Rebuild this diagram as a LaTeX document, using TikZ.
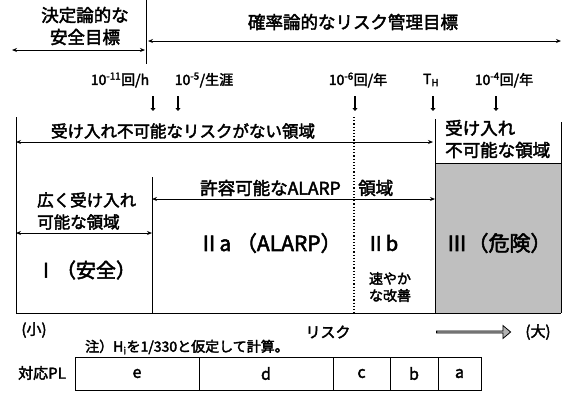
\documentclass[tikz,border=0pt]{standalone}
\usepackage{fontspec}
\setmainfont{Noto Sans CJK JP}[FakeBold=2.5]
\usetikzlibrary{arrows.meta,shapes.arrows}
\begin{document}
\begin{tikzpicture}[x=1pt,y=-1pt,
  txt/.style={inner sep=0pt, font=\fontsize{16.5}{22}\selectfont},
  head/.style={inner sep=0pt, font=\fontsize{17.5}{22}\selectfont},
  big/.style={inner sep=0pt, font=\fontsize{20}{22}\selectfont},
  small/.style={inner sep=0pt, font=\fontsize{15}{17}\selectfont},
  note/.style={inner sep=0pt, font=\fontsize{14}{16}\selectfont},
  rate/.style={inner sep=0pt, font=\fontsize{14}{16}\selectfont},
  ln/.style={line width=1pt},
  dotln/.style={line width=1.2pt, dotted},
  dbl/.style={line width=1pt, {Stealth[length=5pt,width=4pt]}-{Stealth[length=5pt,width=4pt]}},
  darr/.style={line width=1.8pt, -{Triangle[length=3pt,width=5pt]}},
  cell/.style={draw, line width=1pt, minimum height=33pt, inner sep=0pt, font=\fontsize{16}{18}\selectfont}
]
\useasboundingbox (0,0) rectangle (566,392);

% danger zone fill
\fill[black!25] (435,163) rectangle (561,313);

% top section
\node[head, align=center] (det) at (85,26) {決定論的な\\安全目標};
\node[head] (prob) at (353,22) {確率論的なリスク管理目標};
\coordinate (vt) at (146,0);
\coordinate (vb) at (146,64);
\draw[ln] (vt) -- (vb);
\coordinate (a1l) at (12,50);
\coordinate (a1r) at (145,50);
\draw[dbl] (a1l) -- (a1r);
\coordinate (a2l) at (148,41);
\coordinate (a2r) at (561,41);
\draw[dbl] (a2l) -- (a2r);

% rates
\node[rate] (r1) at (120,80) {10\textsuperscript{-11}回/h};
\node[rate] (r2) at (204,80) {10\textsuperscript{-5}/生涯};
\node[rate] (r3) at (358,80) {10\textsuperscript{-6}回/年};
\node[rate] (r4) at (431,80) {T\textsubscript{H}};
\node[rate] (r5) at (504,80) {10\textsuperscript{-4}回/年};
\foreach \n/\x in {1/153,2/178,3/355,4/433,5/496}{
  \coordinate (d\n t) at (\x,96);
  \coordinate (d\n b) at (\x,111);
  \draw[darr] (d\n t) -- (d\n b);
}

% frame
\coordinate (fl1) at (16,117);
\coordinate (fl2) at (16,313);
\coordinate (fr2) at (561,313);
\draw[ln] (fl1) -- (fl2) -- (fr2);
\coordinate (m1) at (152,177);
\coordinate (m2) at (152,313);
\draw[ln] (m1) -- (m2);
\coordinate (dt) at (354,117);
\coordinate (db) at (354,313);
\draw[dotln] (dt) -- (db);
\coordinate (g1) at (435,119);
\coordinate (g2) at (435,313);
\draw[ln] (g1) -- (g2);
\coordinate (h1) at (561,122);
\coordinate (h2) at (561,313);
\draw[ln] (h1) -- (h2);
\coordinate (gt1) at (435,163);
\coordinate (gt2) at (561,163);
\draw[ln] (gt1) -- (gt2);

% region arrows
\node[txt] (noacc) at (183,131) {受け入れ不可能なリスクがない領域};
\coordinate (na1) at (16,142);
\coordinate (na2) at (433,142);
\draw[dbl] (na1) -- (na2);
\node[head, align=left, anchor=west] (unacc) at (445,139) {受け入れ\\不可能な領域};

\node[txt, align=left, anchor=west] (broad) at (37,211) {広く受け入れ\\可能な領域};
\coordinate (br1) at (16,233);
\coordinate (br2) at (152,233);
\draw[dbl] (br1) -- (br2);

\node[head, anchor=west] (tol) at (200,188) {許容可能なALARP};
\node[head, anchor=west] (tolb) at (358,188) {領域};
\coordinate (tl1) at (152,199);
\coordinate (tl2) at (435,199);
\draw[dbl] (tl1) -- (tl2);

% zone labels
\node[big] (z1) at (86,270) {Ⅰ（安全）};
\node[big, font=\fontsize{21}{22}\selectfont] (z2a) at (270,243) {Ⅱa （ALARP）};
\node[big] (z2b) at (382,243) {Ⅱb};
\node[inner sep=0pt, align=center, font=\fontsize{14}{17}\selectfont] (quick) at (390,287) {速やか\\な改善};
\node[big, font=\fontsize{21}{22}\selectfont] (z3) at (499,243) {Ⅲ（危険）};

% risk axis
\node[small] (lo) at (34,330) {(小)};
\node[small] (risk) at (328,332) {リスク};
\node[single arrow, draw, fill=black!30, line width=0.8pt, minimum height=74pt, minimum width=13pt,
      single arrow head extend=2pt, single arrow tip angle=80, inner sep=0pt] (bigarr) at (473,332) {};
\node[small] (hi) at (538,332) {(大)};

\node[note, anchor=west] (note) at (85,347) {注）H\textsubscript{i}を1/330と仮定して計算。};

% PL table
\node[small] (pl) at (42,373) {対応PL};
\node[cell, minimum width=124pt] (ce) at (137,373.5) {e};
\node[cell, minimum width=134pt] (cd) at (266,373.5) {d};
\node[cell, minimum width=57pt] (cc) at (361.5,373.5) {c};
\node[cell, minimum width=48pt] (cb) at (414,373.5) {b};
\node[cell, minimum width=43pt] (ca) at (459.5,373.5) {a};
\end{tikzpicture}
\end{document}
